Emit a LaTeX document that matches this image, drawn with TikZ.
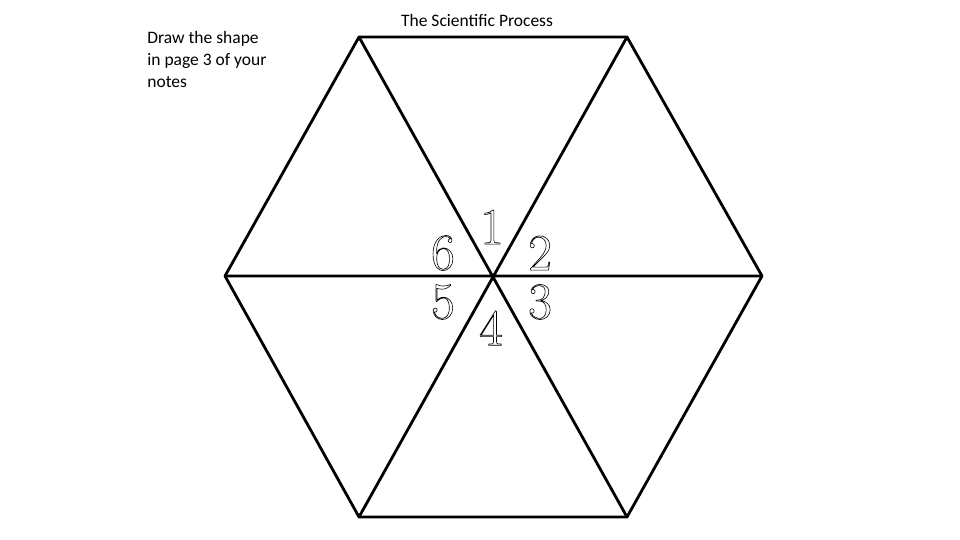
\documentclass[tikz,border=0pt]{standalone}
\usepackage{fontspec}
\setsansfont{Carlito}
\usetikzlibrary{positioning}

\newcommand{\hollow}[1]{\special{pdf:literal direct 1 Tr 0.6 w}#1\special{pdf:literal direct 0 Tr}}

\begin{document}
\begin{tikzpicture}[x=1pt, y=-1pt, line width=2.8pt, line cap=round, line join=round,
    num/.style={font=\rmfamily\fontsize{52}{52}\selectfont, inner sep=0pt},
    note/.style={font=\sffamily\fontsize{17.5}{22}\selectfont, inner sep=0pt, align=left}]
    \useasboundingbox (0,0) rectangle (960,540);

    \coordinate (c) at (493, 276);
    \coordinate (tl) at (359, 37);
    \coordinate (tr) at (627, 37);
    \coordinate (r) at (762, 276);
    \coordinate (br) at (627, 517);
    \coordinate (bl) at (359, 517);
    \coordinate (l) at (225, 276);

    \draw (tl) -- (tr) -- (r) -- (br) -- (bl) -- (l) -- cycle;
 \path[draw]
      (tl) -- (br)
      (tr) -- (bl)
      (l) -- (r);

    \node [num] (n1) at (492, 227) {\hollow{1}};
    \node [num] (n2) at (540, 253) {\hollow{2}};
    \node [num] (n3) at (540, 302) {\hollow{3}};
    \node [num] (n4) at (491, 328) {\hollow{4}};
    \node [num] (n5) at (443, 302) {\hollow{5}};
    \node [num] (n6) at (443, 253) {\hollow{6}};

    \node [note, anchor=north west] (hint) at (146, 30) {Draw the shape\\in page 3 of your\\notes};
    \node [note, font=\sffamily\fontsize{17.5}{18}\selectfont] (title) at (477, 20) {The Scientific Process};
\end{tikzpicture}
\end{document}
